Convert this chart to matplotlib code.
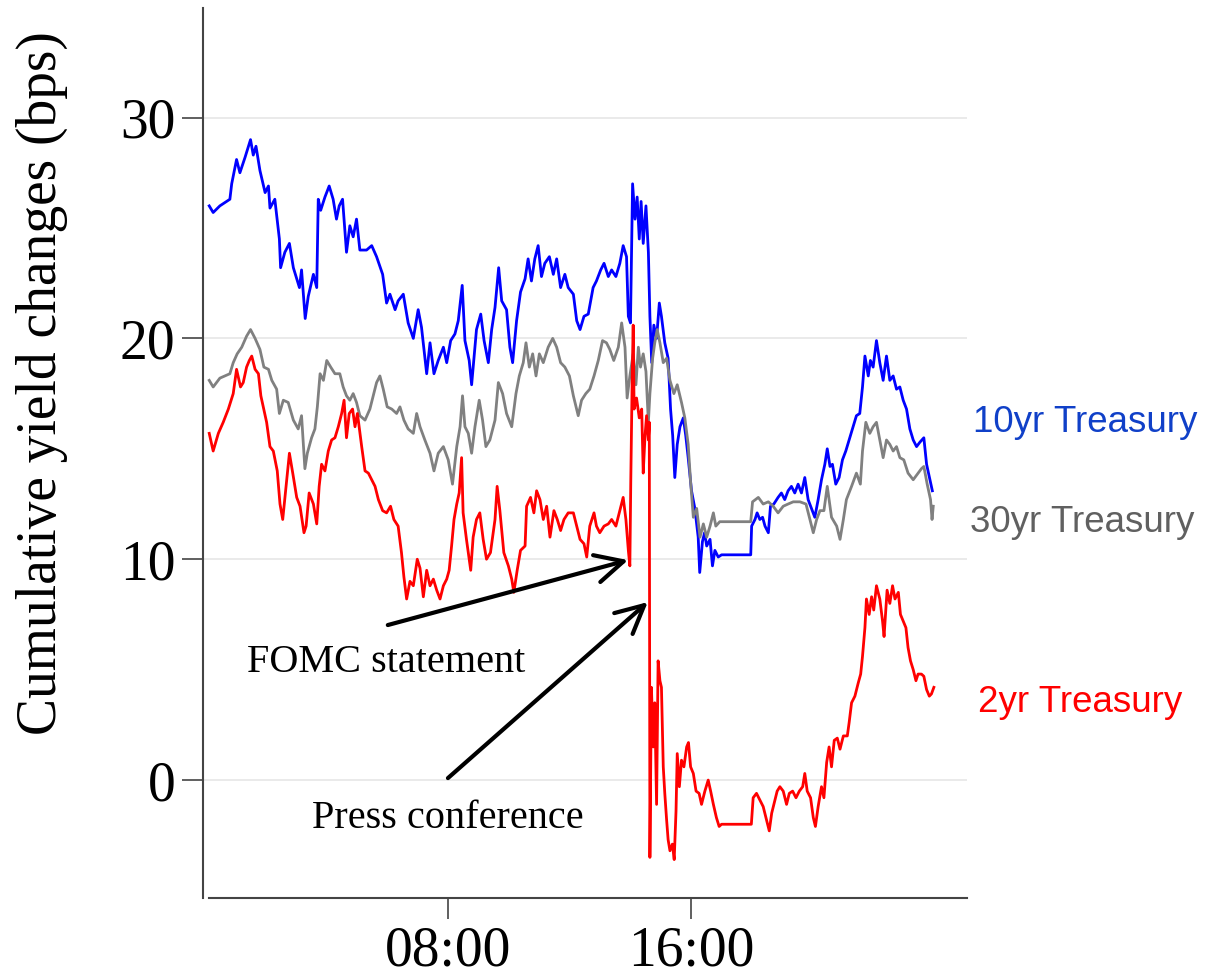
import matplotlib
matplotlib.use('Agg')
import matplotlib.pyplot as plt

# Tiempo en horas del dia y cambio acumulado (bps)
t10 = [0.14, 0.27, 0.49, 0.82, 0.88, 1.04, 1.15, 1.32, 1.50, 1.59, 1.68, 1.81, 1.98, 2.09, 2.14, 2.30,
       2.45, 2.49, 2.63, 2.78, 2.91, 3.11, 3.18, 3.30, 3.40, 3.57, 3.68, 3.73, 3.81, 3.95, 4.09, 4.22,
       4.33, 4.42, 4.53, 4.66, 4.77, 4.88, 4.99, 5.10, 5.32, 5.49, 5.65, 5.85, 5.98, 6.09, 6.26, 6.36,
       6.53, 6.69, 6.86, 6.91, 7.02, 7.13, 7.30, 7.41, 7.54, 7.68, 7.85, 7.96, 8.09, 8.23, 8.34, 8.47,
       8.56, 8.70, 8.78, 8.94, 9.08, 9.19, 9.33, 9.44, 9.55, 9.67, 9.77, 9.93, 10.04, 10.13, 10.26, 10.39,
       10.54, 10.64, 10.75, 10.86, 10.97, 11.08, 11.19, 11.34, 11.47, 11.58, 11.71, 11.85, 11.96, 12.13,
       12.24, 12.35, 12.48, 12.62, 12.78, 12.89, 13.03, 13.14, 13.28, 13.39, 13.53, 13.66, 13.77, 13.88,
       13.94, 14.01, 14.08, 14.16, 14.23, 14.30, 14.36, 14.43, 14.52, 14.60, 14.65, 14.71, 14.78, 14.87,
       14.96, 15.03, 15.14, 15.25, 15.33, 15.40, 15.47, 15.55, 15.64, 15.75, 15.83, 15.91, 16.02, 16.13,
       16.24, 16.29, 16.38, 16.45, 16.52, 16.63, 16.71, 16.79, 16.90, 17.01, 17.97, 18.00, 18.11, 18.18,
       18.27, 18.36, 18.44, 18.55, 18.62, 18.73, 18.87, 18.98, 19.09, 19.20, 19.31, 19.42, 19.53, 19.64,
       19.75, 19.86, 19.97, 20.08, 20.19, 20.30, 20.41, 20.49, 20.58, 20.66, 20.77, 20.88, 20.99, 21.10,
       21.21, 21.32, 21.45, 21.56, 21.65, 21.73, 21.84, 21.91, 22.00, 22.11, 22.22, 22.33, 22.44, 22.55,
       22.66, 22.77, 22.88, 22.99, 23.10, 23.21, 23.32, 23.43, 23.54, 23.67, 23.76, 23.87, 23.95]
y10 = [26.0, 25.7, 26.0, 26.3, 27.0, 28.1, 27.5, 28.2, 29.0, 28.3, 28.7, 27.6, 26.6, 26.9, 25.9, 26.3,
       24.5, 23.2, 23.9, 24.3, 23.2, 22.3, 23.1, 20.9, 21.9, 22.9, 22.3, 26.3, 25.8, 26.4, 26.9, 26.3,
       25.4, 26.0, 26.3, 23.9, 25.1, 24.6, 25.4, 24.0, 24.0, 24.2, 23.7, 22.9, 21.6, 22.0, 21.3, 21.7,
       22.0, 20.7, 20.0, 20.4, 21.3, 20.5, 18.4, 19.8, 18.4, 19.0, 19.6, 18.9, 19.9, 20.2, 20.8, 22.4,
       19.9, 19.0, 17.9, 20.4, 21.1, 19.9, 18.9, 20.4, 21.4, 23.2, 21.7, 21.3, 19.6, 18.9, 20.8, 22.1,
       22.7, 23.6, 22.6, 23.6, 24.2, 22.8, 23.4, 23.7, 22.9, 23.6, 22.3, 22.9, 22.3, 22.0,
       20.8, 20.4, 21.0, 21.1, 22.3, 22.6, 23.1, 23.4, 22.8, 23.1, 22.8, 23.4, 24.2, 23.7,
       21.0, 20.7, 27.0, 25.4, 26.4, 24.5, 26.2, 24.3, 26.0, 23.9, 21.0, 18.9, 20.6, 20.0,
       21.6, 21.0, 19.8, 19.1, 16.8, 15.6, 13.7, 15.2, 16.0, 16.4, 15.6, 14.6, 13.1, 12.3,
       11.0, 9.4, 10.8, 11.2, 10.6, 10.9, 9.7, 10.4, 10.1, 10.2, 10.2, 11.5, 11.8, 12.1,
       11.8, 11.9, 11.5, 11.2, 12.4, 12.5, 12.8, 13.0, 12.7, 13.1, 13.3, 13.0, 13.4, 13.0,
       13.7, 12.7, 12.3, 11.9, 12.7, 13.6, 14.3, 15.0, 14.2, 14.3, 13.4, 13.7, 14.5, 14.9,
       15.4, 15.9, 16.5, 16.6, 17.8, 19.2, 18.3, 19.0, 18.7, 19.9, 18.9, 18.1, 19.2, 18.1,
       18.3, 17.7, 17.8, 17.2, 16.8, 15.9, 15.4, 15.1, 15.3, 15.5, 14.3, 13.6, 13.1]

t30 = [0.14, 0.27, 0.49, 0.82, 0.93, 1.06, 1.21, 1.37, 1.50, 1.65, 1.81, 1.94, 2.09, 2.20, 2.36, 2.45,
       2.58, 2.74, 2.91, 3.07, 3.18, 3.29, 3.37, 3.51, 3.62, 3.70, 3.79, 3.90, 4.01, 4.14, 4.28, 4.44,
       4.55, 4.66, 4.77, 4.88, 4.99, 5.10, 5.27, 5.43, 5.56, 5.65, 5.76, 5.87, 6.00, 6.15, 6.31, 6.42,
       6.55, 6.69, 6.86, 6.97, 7.08, 7.24, 7.41, 7.54, 7.68, 7.85, 8.01, 8.15, 8.29, 8.40, 8.48, 8.56,
       8.67, 8.78, 8.89, 9.03, 9.14, 9.25, 9.38, 9.55, 9.66, 9.80, 9.93, 10.10, 10.24, 10.35, 10.48, 10.57,
       10.68, 10.79, 10.90, 11.01, 11.14, 11.30, 11.45, 11.58, 11.71, 11.85, 12.00, 12.13, 12.29, 12.40,
       12.54, 12.67, 12.81, 12.95, 13.09, 13.22, 13.33, 13.46, 13.61, 13.72, 13.83, 13.90, 13.99, 14.10,
       14.19, 14.27, 14.34, 14.43, 14.52, 14.60, 14.65, 14.74, 14.81, 14.89, 14.98, 15.09, 15.20, 15.31,
       15.44, 15.55, 15.69, 15.80, 15.91, 15.99, 16.08, 16.19, 16.30, 16.41, 16.52, 16.63, 16.74, 16.82,
       16.95, 17.97, 18.03, 18.22, 18.38, 18.55, 18.71, 18.87, 19.04, 19.20, 19.37, 19.59, 19.79, 19.92,
       20.03, 20.14, 20.25, 20.38, 20.49, 20.63, 20.80, 20.91, 21.02, 21.12, 21.29, 21.45, 21.58, 21.65,
       21.76, 21.89, 22.00, 22.11, 22.22, 22.33, 22.44, 22.55, 22.66, 22.77, 22.88, 23.01, 23.15, 23.32,
       23.48, 23.59, 23.67, 23.78, 23.89, 23.94, 23.98]
y30 = [18.1, 17.8, 18.2, 18.4, 18.9, 19.3, 19.6, 20.1, 20.4, 20.0, 19.5, 18.7, 18.6, 18.1, 17.7, 16.6,
       17.2, 17.1, 16.3, 15.9, 16.5, 14.1, 14.8, 15.5, 15.9, 16.9, 18.4, 18.1, 19.0, 18.7, 18.4, 18.4,
       17.8, 17.4, 17.2, 17.5, 17.1, 16.5, 16.3, 16.8, 17.5, 18.0, 18.3, 17.7, 16.9, 16.8, 16.6, 16.9,
       16.3, 15.9, 15.7, 16.6, 16.0, 15.4, 14.8, 14.0, 14.8, 15.1, 14.5, 13.4, 15.1, 16.0, 17.4, 16.0,
       15.7, 14.8, 16.0, 17.2, 16.3, 15.1, 15.4, 16.3, 18.0, 17.5, 16.6, 16.0, 17.5, 18.3, 18.9, 19.8,
       18.7, 19.3, 18.3, 19.3, 18.9, 19.6, 20.0, 19.6, 18.9, 18.7, 18.3, 17.4, 16.5, 17.2,
       17.5, 17.7, 18.3, 19.0, 19.9, 19.8, 19.5, 19.0, 19.6, 20.7, 19.6, 17.3, 18.3, 19.3,
       17.9, 19.6, 18.7, 19.3, 18.5, 16.2, 17.5, 19.1, 19.8, 20.4, 19.8, 18.9, 19.1, 18.1,
       17.5, 17.9, 17.1, 16.4, 15.2, 13.5, 11.9, 12.3, 11.0, 11.6, 11.0, 11.5, 12.1, 11.5,
       11.7, 11.7, 12.6, 12.8, 12.5, 12.6, 12.4, 12.1, 12.4, 12.5, 12.6, 12.6, 12.5, 11.8,
       11.2, 11.8, 12.2, 12.2, 13.3, 11.9, 11.5, 10.9, 11.8, 12.7, 13.3, 13.9, 13.4, 14.9,
       16.2, 15.7, 16.0, 16.2, 15.4, 14.6, 15.4, 15.2, 14.9, 15.1, 14.6, 14.5, 13.9, 13.6,
       13.9, 14.1, 14.2, 13.4, 12.7, 11.8, 12.4]

t2 = [0.14, 0.27, 0.44, 0.60, 0.77, 0.93, 1.04, 1.17, 1.26, 1.37, 1.46, 1.54, 1.65, 1.76, 1.84, 1.92,
      2.03, 2.14, 2.25, 2.38, 2.47, 2.56, 2.67, 2.78, 2.89, 3.02, 3.13, 3.26, 3.33, 3.43, 3.57, 3.68,
      3.76, 3.84, 3.95, 4.06, 4.17, 4.28, 4.39, 4.50, 4.58, 4.66, 4.75, 4.86, 4.94, 5.02, 5.16, 5.27,
      5.38, 5.49, 5.60, 5.71, 5.85, 5.98, 6.11, 6.22, 6.36, 6.47, 6.55, 6.64, 6.75, 6.86, 6.99, 7.08,
      7.19, 7.30, 7.41, 7.52, 7.63, 7.74, 7.85, 7.96, 8.04, 8.12, 8.20, 8.29, 8.37, 8.45, 8.50, 8.61,
      8.75, 8.83, 8.94, 9.05, 9.16, 9.27, 9.40, 9.55, 9.62, 9.71, 9.84, 9.99, 10.10, 10.17, 10.28, 10.39,
      10.54, 10.59, 10.72, 10.83, 10.92, 11.03, 11.14, 11.25, 11.36, 11.49, 11.60, 11.71, 11.82, 11.96,
      12.13, 12.24, 12.35, 12.48, 12.57, 12.67, 12.81, 12.89, 13.00, 13.14, 13.28, 13.39, 13.53, 13.66,
      13.77, 13.86, 13.94, 13.99, 14.02, 14.07, 14.10, 14.13, 14.21, 14.30, 14.38, 14.43, 14.49, 14.54,
      14.60, 14.63, 14.65, 14.70, 14.76, 14.81, 14.87, 14.92, 14.98, 15.03, 15.09, 15.14, 15.20, 15.25,
      15.31, 15.39, 15.45, 15.51, 15.55, 15.62, 15.69, 15.77, 15.86, 15.92, 15.99, 16.08, 16.17, 16.27,
      16.35, 16.46, 16.57, 16.65, 16.74, 16.84, 16.93, 17.01, 17.99, 18.05, 18.16, 18.27, 18.38, 18.49,
      18.58, 18.66, 18.77, 18.84, 18.93, 19.04, 19.15, 19.24, 19.35, 19.46, 19.57, 19.68, 19.75, 19.83,
      19.94, 20.03, 20.10, 20.19, 20.30, 20.38, 20.47, 20.55, 20.63, 20.72, 20.82, 20.91, 21.02, 21.15,
      21.21, 21.29, 21.40, 21.51, 21.59, 21.65, 21.73, 21.78, 21.87, 21.95, 22.02, 22.11, 22.22, 22.31,
      22.36, 22.46, 22.55, 22.64, 22.72, 22.83, 22.90, 22.99, 23.08, 23.15, 23.23, 23.32, 23.41, 23.48,
      23.59, 23.67, 23.76, 23.85, 23.92, 24.00]
y2 = [15.7, 14.9, 15.7, 16.2, 16.8, 17.5, 18.6, 17.8, 18.0, 18.7, 19.0, 19.2, 18.6, 18.4, 17.4, 16.9,
      16.2, 15.1, 14.9, 14.0, 12.5, 11.8, 13.3, 14.8, 13.9, 12.8, 12.4, 11.2, 11.5, 13.0, 12.5, 11.6,
      13.3, 14.3, 14.0, 14.9, 15.4, 15.5, 16.0, 16.6, 17.2, 15.5, 16.6, 16.8, 16.0, 16.6, 15.1, 14.0,
      13.9, 13.6, 13.3, 12.7, 12.2, 12.1, 12.4, 11.8, 11.5, 10.3, 9.2, 8.2, 9.0, 8.8, 10.0, 9.6,
      8.3, 9.5, 8.8, 9.1, 8.6, 8.2, 8.8, 9.1, 9.5, 10.6, 11.8, 12.5, 13.0, 14.6, 12.1, 10.9,
      9.5, 11.0, 11.8, 12.1, 10.9, 10.0, 10.3, 11.8, 13.3, 12.2, 10.3, 9.7, 9.1, 8.5, 9.5, 10.4,
      10.6, 12.4, 12.8, 12.1, 13.1, 12.7, 11.8, 12.4, 11.0, 12.2, 11.8, 11.3, 11.8, 12.1,
      12.1, 11.5, 10.9, 10.7, 10.1, 11.5, 12.1, 11.5, 11.2, 11.5, 11.6, 11.8, 11.5, 12.2,
      12.8, 11.8, 10.4, 9.7, 13.5, 18.5, 20.6, 16.8, 17.3, 16.4, 16.8, 13.9, 15.6, 16.5,
      15.4, 16.2, -3.5, 4.2, 1.5, 3.5, -1.1, 5.4, 4.5, 4.2, 0.6, -0.6, -1.8, -2.7,
      -3.2, -2.9, -3.6, -1.4, 1.2, -0.3, 0.9, 0.6, 1.5, 1.7, 0.6, 0.3, -0.5, -0.6,
      -1.1, -0.5, 0.0, -0.5, -1.1, -1.7, -2.1, -2.0, -2.0, -0.8, -0.6, -0.9, -1.2, -1.8,
      -2.3, -1.5, -0.9, -0.5, -0.3, -0.5, -1.1, -0.6, -0.5, -0.8, -0.5, -0.3, 0.3, -0.5,
      -0.8, -1.7, -2.1, -1.2, -0.3, -0.8, 0.8, 1.5, 0.6, 1.8, 1.9, 1.4, 2.0, 2.0,
      2.6, 3.5, 3.8, 4.4, 4.8, 5.6, 6.9, 8.2, 7.5, 8.3, 7.7, 8.8, 8.2, 7.2,
      6.5, 8.6, 8.0, 8.8, 8.2, 8.5, 7.5, 7.2, 6.9, 6.0, 5.4, 5.0, 4.5, 4.8,
      4.8, 4.7, 4.1, 3.8, 3.9, 4.2]

plt.rcParams['font.family'] = ['Liberation Serif', 'DejaVu Serif']

fig = plt.figure(figsize=(12.06, 9.76), dpi=100)
ax = fig.add_axes([0.1683, 0.0799, 0.6335, 0.9119])

# Graficar las tres series
ax.plot(t10, y10, color='#0000ff', lw=2.0)
ax.plot(t30, y30, color='#808080', lw=2.0)
ax.plot(t2, y2, color='#ff0000', lw=2.0)

ax.set_xlim(-0.066, 25.09)
ax.set_ylim(-5.34, 34.96)
ax.set_yticks([0, 10, 20, 30])
ax.set_xticks([8, 16])
ax.set_xticklabels(['08:00', '16:00'])
ax.yaxis.grid(True, color='#e6e6e6', lw=1.2)
ax.set_axisbelow(True)

for s in ['top', 'right']:
    ax.spines[s].set_visible(False)
for s in ['left', 'bottom']:
    ax.spines[s].set_color('#444444')
    ax.spines[s].set_linewidth(1.5)
ax.spines['bottom'].set_bounds(0.13, 25.09)
ax.tick_params(labelsize=40, length=15, width=1.2, color='#444444', pad=5)

fig.text(42 / 1206, 1 - 383 / 976, 'Cumulative yield changes (bps)', fontsize=40,
         rotation=90, ha='center', va='center')

# Flechas de los anuncios
ax.annotate('', xy=(13.93, 9.96), xytext=(6.02, 7.02),
            arrowprops=dict(arrowstyle='->,head_length=0.5,head_width=0.25', lw=3,
                            color='black', mutation_scale=40, shrinkA=0, shrinkB=0))
ax.annotate('', xy=(14.58, 8.06), xytext=(8.0, 0.09),
            arrowprops=dict(arrowstyle='->,head_length=0.5,head_width=0.25', lw=3,
                            color='black', mutation_scale=40, shrinkA=0, shrinkB=0))
ax.text(1.38, 5.34, 'FOMC statement', fontsize=29, ha='left', va='center')
ax.text(3.52, -1.72, 'Press conference', fontsize=29, ha='left', va='center')

# Etiquetas de las series
sans = ['Liberation Sans', 'DejaVu Sans']
fig.text(973 / 1206, 1 - 423 / 976, '10yr Treasury', color='#1040c8', fontsize=26.5,
         family=sans, ha='left', va='center')
fig.text(970 / 1206, 1 - 522 / 976, '30yr Treasury', color='#606060', fontsize=26.5,
         family=sans, ha='left', va='center')
fig.text(978 / 1206, 1 - 703 / 976, '2yr Treasury', color='#ff0000', fontsize=26.5,
         family=sans, ha='left', va='center')

fig.savefig('out.png', dpi=100)
